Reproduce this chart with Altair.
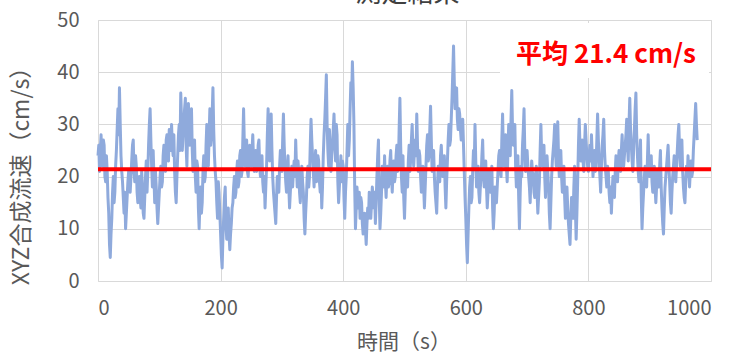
import altair as alt
import numpy as np
import pandas as pd

# Sampling interval of the logger (s)
DT = 1.25

# Resultant XYZ velocity (cm/s), one row per 50 s block
v_000 = [24, 26, 21, 25, 28, 23, 22, 27, 26, 20, 19, 24, 21, 16, 13, 7, 4.5, 9, 12, 17,
         20, 15, 17, 22, 25, 29, 33, 28, 37, 30, 24, 21, 19, 16, 13, 17, 10, 13, 16, 19]
v_050 = [21, 18, 17, 20, 23, 26, 27, 21, 19, 24, 22, 17, 15, 19, 20, 16, 14, 21, 18, 13,
         12, 16, 20, 23, 17, 21, 26, 30, 33, 27, 22, 18, 25, 20, 15, 21, 18, 14, 11, 14]
v_100 = [17, 20, 22, 18, 19, 24, 26, 22, 21, 27, 28, 24, 23, 29, 27, 25, 30, 26, 24, 28,
         21, 17, 15, 20, 24, 28, 30, 25, 36, 31, 25, 28, 30, 33, 35, 26, 22, 29, 34, 28]
v_150 = [26, 30, 33, 25, 21, 24, 27, 20, 17, 23, 22, 14, 10, 15, 18, 13, 15, 21, 24, 19,
         20, 26, 30, 24, 22, 28, 33, 26, 28, 32, 37, 29, 24, 21, 19, 15, 12, 19, 17, 13]
v_200 = [9, 5, 2.5, 8, 12, 16, 18, 11, 8, 12, 14, 9, 6, 9, 11, 14, 15, 18, 20, 16,
         17, 21, 23, 18, 19, 24, 25, 20, 21, 27, 33, 26, 22, 25, 27, 21, 20, 24, 26, 23]
v_250 = [22, 25, 28, 23, 21, 24, 25, 21, 22, 26, 27, 22, 20, 23, 24, 19, 17, 20, 14, 18,
         22, 28, 33, 27, 23, 29, 32, 25, 20, 17, 15, 13, 11, 16, 20, 18, 17, 22, 25, 23]
v_300 = [21, 27, 32, 26, 22, 19, 17, 21, 24, 18, 14, 17, 20, 22, 18, 21, 23, 20, 27, 22,
         18, 23, 21, 17, 15, 19, 22, 19, 17, 12, 9, 13, 16, 20, 22, 18, 20, 26, 31, 27]
v_350 = [24, 21, 18, 22, 25, 19, 20, 24, 23, 19, 17, 21, 14, 18, 24, 28, 31, 35, 39.5, 30,
         25, 22, 29, 25, 21, 24, 26, 29, 32, 27, 23, 30, 28, 19, 15, 18, 21, 24, 19, 23]
v_400 = [22, 16, 12, 17, 20, 25, 30, 24, 27, 33, 38, 35, 42, 37, 30, 18, 10, 14, 18, 15,
         14, 17, 12, 16, 15, 11, 9, 12, 13, 10, 7, 11, 14, 12, 17, 14, 12, 15, 18, 16]
v_450 = [14, 17, 11, 15, 20, 24, 27, 16, 10, 13, 17, 22, 21, 18, 24, 19, 16, 20, 22, 18,
         19, 23, 25, 20, 17, 21, 23, 19, 20, 24, 26, 21, 22, 29, 35, 26, 20, 17, 24, 16]
v_500 = [12, 17, 21, 19, 18, 23, 26, 21, 23, 27, 30, 25, 22, 25, 27, 24, 32, 26, 21, 25,
         24, 20, 17, 20, 22, 18, 14, 18, 22, 26, 28, 23, 24, 29, 33.5, 27, 21, 23, 25, 20]
v_550 = [17, 15, 13, 18, 22, 20, 19, 24, 26, 22, 20, 23, 24, 18, 14, 19, 23, 27, 30, 26,
         27, 31, 35, 40, 45, 38, 33, 36, 37, 31, 29, 33, 32, 29, 27, 30, 31, 26, 21, 16]
v_600 = [12, 7, 3.5, 9, 14, 18, 20, 15, 16, 21, 25, 22, 30, 23, 18, 21, 22, 17, 15, 18,
         20, 24, 27, 21, 18, 22, 23, 18, 14, 17, 21, 19, 17, 20, 22, 14, 10, 13, 18, 16]
v_650 = [15, 18, 21, 24, 25, 21, 20, 27, 32, 25, 22, 26, 28, 22, 19, 25, 30, 26, 24, 31,
         36.5, 29, 26, 28, 30, 22, 18, 21, 24, 16, 10, 17, 22, 20, 26, 29, 33, 25, 21, 24]
v_700 = [25, 22, 20, 18, 15, 20, 23, 21, 20, 17, 16, 20, 22, 17, 13, 16, 19, 25, 30, 24,
         22, 24, 26, 20, 16, 20, 24, 21, 18, 13, 10, 15, 20, 23, 25, 27, 30, 25, 22, 27]
v_750 = [30.5, 24, 20, 23, 25, 20, 17, 21, 22, 16, 12, 15, 18, 14, 11, 9, 7, 12, 16, 14,
         12, 18, 22, 14, 8, 13, 19, 26, 31, 26, 23, 25, 27, 23, 21, 26, 30, 27, 24, 22]
v_800 = [21, 24, 26, 23, 28, 24, 20, 23, 25, 21, 22, 27, 32, 27, 23, 20, 17, 22, 26, 28,
         31, 25, 22, 20, 18, 22, 21, 17, 15, 18, 13, 17, 20, 18, 16, 21, 24, 21, 19, 23]
v_850 = [25, 22, 21, 25, 28, 24, 22, 24, 26, 28, 31, 26, 23, 30, 35, 29, 26, 23, 21, 25,
         29, 33, 36, 28, 24, 21, 19, 23, 27, 16, 10, 14, 17, 20, 22, 19, 18, 23, 28, 22]
v_900 = [20, 22, 24, 19, 17, 20, 22, 18, 15, 18, 21, 19, 18, 22, 25, 18, 14, 11, 9, 14,
         18, 20, 22, 24, 26, 22, 19, 15, 13, 17, 20, 22, 24, 21, 19, 22, 25, 28, 30, 25]
v_950 = [22, 25, 27, 21, 18, 16, 15, 19, 22, 20, 24, 21, 18, 21, 23, 20, 21, 25, 28, 31,
         34, 30, 27]

speed = (v_000 + v_050 + v_100 + v_150 + v_200 + v_250 + v_300 + v_350 + v_400
         + v_450 + v_500 + v_550 + v_600 + v_650 + v_700 + v_750 + v_800 + v_850
         + v_900 + v_950)
time_s = np.arange(len(speed)) * DT

MEAN = 21.4
X_TICKS = [0, 200, 400, 600, 800, 1000]
Y_TICKS = [0, 10, 20, 30, 40, 50]

FONT = "Noto Sans CJK JP"
GRAY = "#595959"

W, H = 613, 261

series = pd.DataFrame({"t": time_s, "v": speed})

x_enc = alt.X(
    "t:Q",
    scale=alt.Scale(domain=[0, 1000], nice=False),
    axis=alt.Axis(
        values=X_TICKS, format="d", title="時間（s）", ticks=False, domain=False,
        labelFontSize=20, labelColor=GRAY, labelPadding=17, labelFont=FONT,
        titleFontSize=21, titleColor=GRAY, titleFont=FONT, titleFontWeight="normal",
        titleBaseline="top", titleY=50, titleX=W / 2 - 1,
        gridColor="#d9d9d9", gridWidth=1,
    ),
)
y_enc = alt.Y(
    "v:Q",
    scale=alt.Scale(domain=[0, 50], nice=False),
    axis=alt.Axis(
        values=Y_TICKS, title="XYZ合成流速（cm/s）", ticks=False, domain=False,
        labelFontSize=20, labelColor=GRAY, labelPadding=19, labelFont=FONT,
        titleFontSize=23, titleColor=GRAY, titleFont=FONT, titleFontWeight="normal",
        titleX=-65, titleY=150, titleBaseline="bottom",
        gridColor="#d9d9d9", gridWidth=1,
    ),
)

line = alt.Chart(series).mark_line(
    color="#8faadc", strokeWidth=3, strokeJoin="round"
).encode(x=x_enc, y=y_enc)

mean_df = pd.DataFrame({"x0": [0], "x1": [1000], "m": [MEAN]})
mean_rule = alt.Chart(mean_df).mark_rule(color="#ff0000", strokeWidth=4).encode(
    x=alt.X("x0:Q"), x2="x1:Q", y=alt.Y("m:Q")
)

label_df = pd.DataFrame({"txt": [f"平均 {MEAN} cm/s"]})
label_box = alt.Chart(label_df).mark_rect(fill="white").encode(
    x=alt.value(402), x2=alt.value(611), y=alt.value(3), y2=alt.value(58)
)
label = alt.Chart(label_df).mark_text(
    color="#ff0000", fontSize=26, fontWeight="bold", font=FONT,
    align="center", baseline="middle",
).encode(x=alt.value(508), y=alt.value(35), text="txt:N")

title_df = pd.DataFrame({"txt": ["測定結果"]})
title = alt.Chart(title_df).mark_text(
    color="#404040", fontSize=26, font=FONT, align="center", baseline="alphabetic"
).encode(x=alt.value(W / 2 + 3), y=alt.value(-18), text="txt:N")

chart = alt.layer(line, mean_rule, label_box, label, title).properties(
    width=W,
    height=H,
    autosize=alt.AutoSizeParams(type="none"),
    padding={"left": 98, "top": 20, "right": 29, "bottom": 73},
).configure_view(stroke="#000000", strokeWidth=1.5).configure(background="white")

chart.save("out.html", embed_options={"renderer": "svg", "actions": False})
